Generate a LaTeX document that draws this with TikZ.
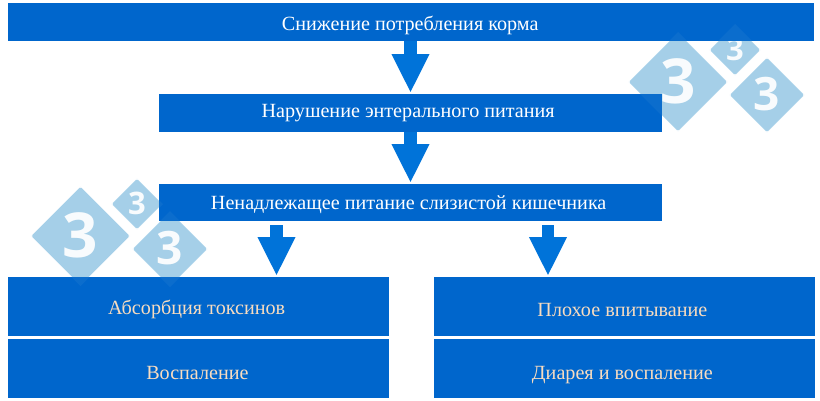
\documentclass[tikz,border=0pt]{standalone}
\usepackage{fontspec}
\setmainfont{Liberation Serif}
\newfontfamily\digitfont{Open Sans}
\usetikzlibrary{arrows.meta}
\definecolor{boxblue}{HTML}{0066CC}
\definecolor{arrowblue}{HTML}{0073D9}
\definecolor{wmblue}{HTML}{A5CFE8}
\definecolor{peach}{HTML}{F8DCC0}
\tikzset{
  x=1pt,y=-1pt,
  hbox/.style={fill=boxblue,draw=none,inner sep=0pt,text=white,font=\fontsize{20.15}{22}\selectfont,anchor=north west},
  lowbox/.style={hbox,text=peach,minimum width=380.5pt,minimum height=59pt},
  flow/.style={draw=arrowblue,line width=12.5pt,-{Triangle[length=39pt,width=35pt,fill=arrowblue]}},
  wm/.style={fill=wmblue,draw=wmblue,line width=3pt,line join=round},
  wmtint/.style={fill=wmblue,fill opacity=.07},
  wmdigit/.style={text=white,inner sep=0pt}
}
\newcommand{\wmark}[5]{% name x y half fontsize
  \path[wm] (#2-#4+2,#3) -- (#2,#3-#4+2) -- (#2+#4-2,#3) -- (#2,#3+#4-2) -- cycle;
  \node[wmdigit,font=\digitfont\bfseries\fontsize{#5}{#5}\selectfont] (#1) at (#2,#3-1) {3};
}
\newcommand{\wtint}[3]{\path[wmtint] (#1-#3,#2) -- (#1,#2-#3) -- (#1+#3,#2) -- (#1,#2+#3) -- cycle;}
% text placed at an offset from the box centre: dx (left), baseline drop, text
\newcommand{\tx}[3]{\kern-#1pt\raisebox{-#2pt}[0pt][0pt]{#3}}
\begin{document}
\begin{tikzpicture}
\useasboundingbox (0,0) rectangle (820,400);
\wmark{wa}{80.5}{236}{49}{62}
\wmark{wb}{170}{249}{37}{46}
\wmark{wc}{137}{204}{25}{31}
\wmark{wd}{678}{82}{49}{62}
\wmark{we}{767}{95}{37}{46}
\wmark{wf}{735}{50}{25}{31}

\node[hbox,minimum width=806pt,minimum height=38pt] (a) at (8,3) {\tx{2}{8}{Снижение потребления корма}};
\node[hbox,minimum width=503pt,minimum height=38pt] (b) at (159,94) {\tx{5}{4.3}{Нарушение энтерального питания}};
\node[hbox,minimum width=503pt,minimum height=37pt] (c) at (159,184) {\tx{4}{6.8}{Ненадлежащее питание слизистой кишечника}};
\node[lowbox] (d) at (8,277) {\tx{3.5}{7.5}{Абсорбция токсинов}};
\node[lowbox] (e) at (8,339) {\tx{2}{10.5}{Воспаление}};
\node[lowbox] (f) at (434,277) {\tx{4}{10.2}{Плохое впитывание}};
\node[lowbox] (g) at (434,339) {\tx{4}{10.8}{Диарея и воспаление}};

\wtint{80.5}{236}{50}
\wtint{170}{249}{38}
\wtint{137}{204}{26}
\wtint{678}{82}{50}
\wtint{767}{95}{38}
\wtint{735}{50}{26}

\coordinate (ax) at (410.5,0);
\coordinate (lx) at (276.5,0);
\coordinate (rx) at (548,0);
\draw[flow,shorten >=1pt] (a.south -| ax) -- (b.north -| ax);
\draw[flow,shorten >=1pt] (b.south -| ax) -- (c.north -| ax);
\draw[flow,shorten <=4pt,shorten >=1pt] (c.south -| lx) -- (d.north -| lx);
\draw[flow,shorten <=4pt,shorten >=1pt] (c.south -| rx) -- (f.north -| rx);
\end{tikzpicture}
\end{document}
